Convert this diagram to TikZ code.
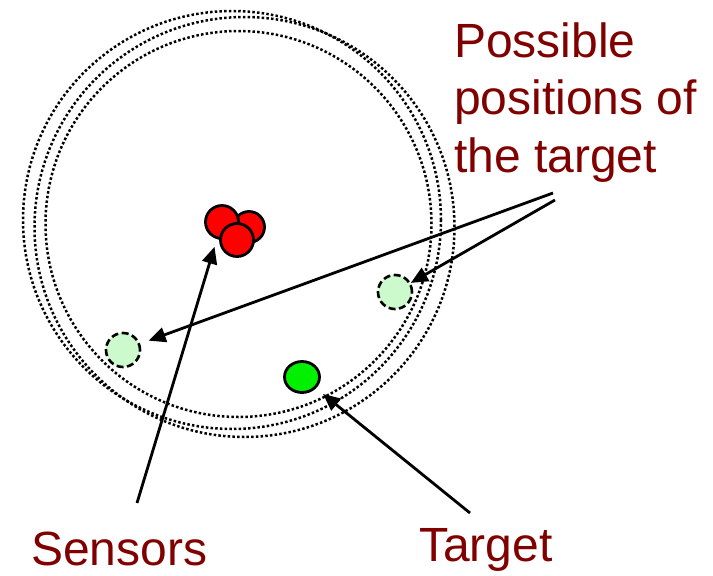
\documentclass[tikz,border=0pt]{standalone}
\usepackage{fontspec}
\setmainfont{Liberation Sans}
\usetikzlibrary{arrows.meta,shapes.geometric}
\definecolor{labelred}{HTML}{800000}
\definecolor{ghost}{HTML}{CCFACC}
\definecolor{tgreen}{HTML}{00F000}
\begin{document}
\begin{tikzpicture}[x=1pt,y=-1pt,
  ring/.style={draw, line width=2.5pt, dash pattern=on 2.5pt off 2.2pt},
  sensor/.style={circle, draw, line width=2.8pt, fill=red, minimum size=33pt, inner sep=0pt},
  ghostpos/.style={circle, draw, line width=2.6pt, dash pattern=on 7pt off 3.5pt, fill=ghost, minimum size=34pt, inner sep=0pt},
  targetnode/.style={ellipse, draw, line width=2.8pt, fill=tgreen, minimum width=35pt, minimum height=31pt, inner sep=0pt},
  pointer/.style={-{Triangle[length=17pt,width=15pt]}, line width=2.8pt},
  lbl/.style={text=labelred, font=\fontsize{48}{57.5}\selectfont, inner sep=0pt, align=left}]
\useasboundingbox (0,0) rectangle (713,576);
% rings of possible distances
\draw[ring] (232,220) circle[radius=209pt];
\draw[ring] (244.5,227) circle[radius=210pt];
\draw[ring] (238.5,224) circle[radius=193pt];
% sensors
\node[sensor, minimum size=31pt] (r2) at (249,227) {};
\node[sensor] (r1) at (222,222) {};
\node[sensor] (r3) at (237,240) {};
% possible positions and target
\node[ghostpos] (g1) at (123,350) {};
\node[ghostpos] (g2) at (395,292) {};
\node[targetnode] (t) at (302,377) {};
% labels
\node[lbl, anchor=base west] (lp) at (454,172) {Possible\\positions of\\the target};
\node[lbl, anchor=base west] (ls) at (31,565) {Sensors};
\node[lbl, anchor=base west] (lt) at (419,561) {Target};
% connector start points
\coordinate (pa) at (553,193);
\coordinate (pb) at (555,200);
\coordinate (sa) at (137,503);
\coordinate (ta) at (470,513);
\draw[pointer, shorten >=9pt] (pa) -- (g1);
\draw[pointer] (pb) -- (g2);
\draw[pointer, shorten >=8pt] (sa) -- (r1);
\draw[pointer, shorten >=9pt] (ta) -- (t);
\end{tikzpicture}
\end{document}
